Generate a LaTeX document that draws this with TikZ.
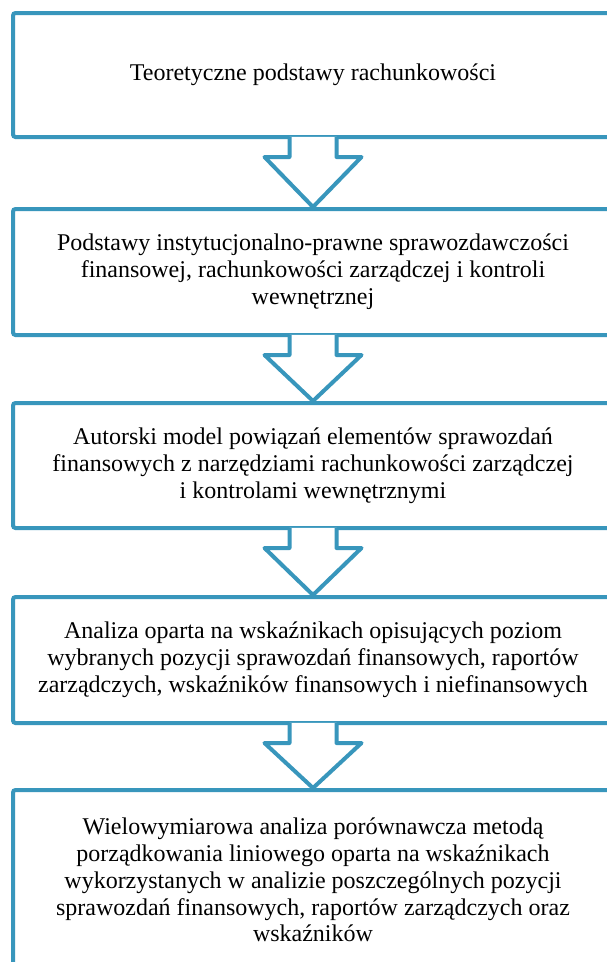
\documentclass[tikz,border=0pt]{standalone}
\usepackage{fontspec}
\setmainfont{Liberation Serif}
\usetikzlibrary{calc}
\definecolor{flowblue}{RGB}{56,150,188}
\begin{document}
\begin{tikzpicture}[x=1pt,y=-1pt,
  stagebox/.style={draw=flowblue, line width=4pt, rounded corners=2.5pt,
    minimum width=600pt, align=center, inner sep=0pt,
    font=\fontsize{24}{26.8}\selectfont},
  flowarrow/.style={draw=flowblue, line width=4pt, line join=round, fill=white}]
\useasboundingbox (0,0) rectangle (607,962);
\clip (0,0) rectangle (607,962);
\fill[white] (0,0) rectangle (607,962);

% stages of the study, top to bottom
\node[stagebox, minimum height=124pt] (b1) at (313,75)
  {Teoretyczne podstawy rachunkowości};
\node[stagebox, minimum height=126pt] (b2) at (313,272)
  {Podstawy instytucjonalno-prawne sprawozdawczości\\
   finansowej, rachunkowości zarządczej i kontroli\\
   wewnętrznej};
\node[stagebox, minimum height=125pt] (b3) at (313,465.5)
  {Autorski model powiązań elementów sprawozdań\\
   finansowych z narzędziami rachunkowości zarządczej\\
   i kontrolami wewnętrznymi};
\node[stagebox, minimum height=126pt] (b4) at (313,660)
  {Analiza oparta na wskaźnikach opisujących poziom\\
   wybranych pozycji sprawozdań finansowych, raportów\\
   zarządczych, wskaźników finansowych i niefinansowych};
\node[stagebox, minimum height=180pt] (b5) at (313,880)
  {Wielowymiarowa analiza porównawcza metodą\\
   porządkowania liniowego oparta na wskaźnikach\\
   wykorzystanych w analizie poszczególnych pozycji\\
   sprawozdań finansowych, raportów zarządczych oraz\\
   wskaźników};

% block arrows between consecutive stages
\foreach \a/\b in {b1/b2, b2/b3, b3/b4, b4/b5}{
  \fill[white] ($(\a.south)+(-23.5,-2.2)$) -- ($(\a.south)+(-23.5,18)$)
    -- ($(\a.south)+(-48.5,18)$) -- (\b.north) -- ($(\a.south)+(48.5,18)$)
    -- ($(\a.south)+(23.5,18)$) -- ($(\a.south)+(23.5,-2.2)$) -- cycle;
  \draw[flowarrow, fill=none] ($(\a.south)+(-23.5,-2)$) -- ($(\a.south)+(-23.5,18)$)
    -- ($(\a.south)+(-48.5,18)$) -- (\b.north) -- ($(\a.south)+(48.5,18)$)
    -- ($(\a.south)+(23.5,18)$) -- ($(\a.south)+(23.5,-2)$);
}
\end{tikzpicture}
\end{document}
